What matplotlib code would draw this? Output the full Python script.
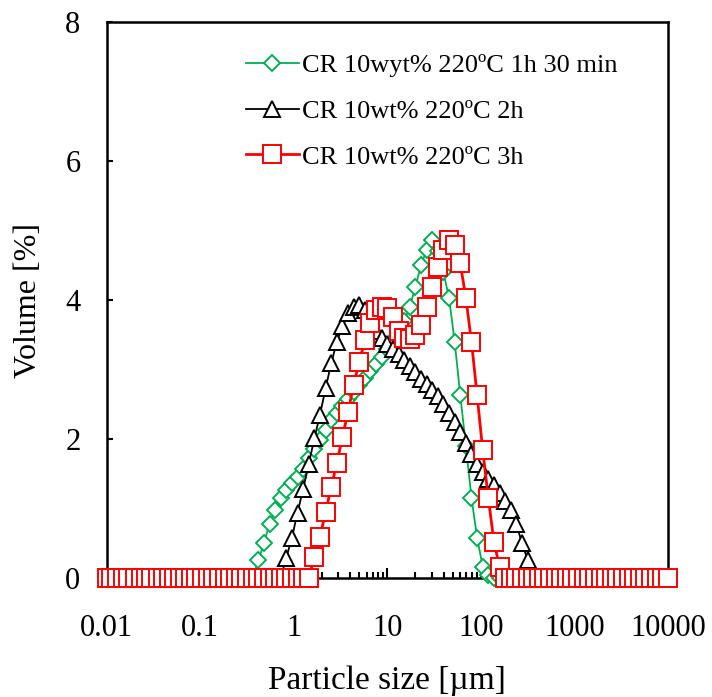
import matplotlib
matplotlib.use("Agg")
import matplotlib.pyplot as plt
from matplotlib.ticker import LogLocator, FixedLocator, FixedFormatter, NullFormatter

# particle size classes [um]
size_um = [
    0.010, 0.011, 0.013, 0.015, 0.017, 0.020, 0.023, 0.026, 0.030, 0.035,
    0.040, 0.046, 0.052, 0.060, 0.069, 0.079, 0.091, 0.105, 0.120, 0.138,
    0.158, 0.182, 0.209, 0.240, 0.275, 0.316, 0.363, 0.417, 0.479, 0.550,
    0.631, 0.724, 0.832, 0.955, 1.096, 1.259, 1.445, 1.660, 1.905, 2.188,
    2.512, 2.884, 3.311, 3.802, 4.365, 5.012, 5.754, 6.607, 7.586, 8.710,
    10.00, 11.48, 13.18, 15.14, 17.38, 19.95, 22.91, 26.30, 30.20, 34.67,
    39.81, 45.71, 52.48, 60.26, 69.18, 79.43, 91.20, 104.7, 120.2, 138.0,
    158.5, 182.0, 208.9, 239.9, 275.4, 316.2, 363.1, 416.9, 478.6, 549.5,
    631.0, 724.4, 831.8, 955.0, 1096, 1259, 1445, 1660, 1905, 2188,
    2512, 2884, 3311, 3802, 4365, 5012, 5754, 6607, 7586, 8710,
    10000,
]

# volume [%] - 1h 30 min
vol_1h30 = [
    0, 0, 0, 0, 0, 0, 0, 0, 0, 0,
    0, 0, 0, 0, 0, 0, 0, 0, 0, 0,
    0, 0, 0, 0, 0, 0, 0, 0.25, 0.50, 0.78,
    0.98, 1.15, 1.27, 1.36, 1.45, 1.57, 1.72, 1.86, 1.99, 2.13,
    2.27, 2.38, 2.48, 2.58, 2.68, 2.78, 2.88, 2.98, 3.08, 3.18,
    3.30, 3.42, 3.55, 3.70, 3.90, 4.19, 4.50, 4.72, 4.86, 4.70,
    4.40, 4.03, 3.40, 2.63, 1.90, 1.15, 0.58, 0.16, 0.04, 0,
    0, 0, 0, 0, 0, 0, 0, 0, 0, 0,
    0, 0, 0, 0, 0, 0, 0, 0, 0, 0,
    0, 0, 0, 0, 0, 0, 0, 0, 0, 0,
    0,
]

# volume [%] - 2h
vol_2h = [
    0, 0, 0, 0, 0, 0, 0, 0, 0, 0,
    0, 0, 0, 0, 0, 0, 0, 0, 0, 0,
    0, 0, 0, 0, 0, 0, 0, 0, 0, 0,
    0, 0, 0.29, 0.58, 0.94, 1.28, 1.64, 2.01, 2.35, 2.73,
    3.09, 3.40, 3.62, 3.81, 3.90, 3.93, 3.86, 3.72, 3.56, 3.45,
    3.37, 3.29, 3.22, 3.14, 3.05, 2.96, 2.87, 2.79, 2.71, 2.62,
    2.50, 2.37, 2.24, 2.10, 1.94, 1.78, 1.64, 1.53, 1.43, 1.33,
    1.22, 1.10, 0.98, 0.77, 0.50, 0.26, 0, 0, 0, 0,
    0, 0, 0, 0, 0, 0, 0, 0, 0, 0,
    0, 0, 0, 0, 0, 0, 0, 0, 0, 0,
    0,
]

# volume [%] - 3h
vol_3h = [
    0, 0, 0, 0, 0, 0, 0, 0, 0, 0,
    0, 0, 0, 0, 0, 0, 0, 0, 0, 0,
    0, 0, 0, 0, 0, 0, 0, 0, 0, 0,
    0, 0, 0, 0, 0, 0, 0, 0.30, 0.59, 0.95,
    1.31, 1.65, 2.03, 2.39, 2.78, 3.11, 3.42, 3.67, 3.86, 3.90,
    3.88, 3.75, 3.55, 3.45, 3.44, 3.50, 3.64, 3.90, 4.19, 4.47,
    4.72, 4.86, 4.79, 4.53, 4.03, 3.40, 2.63, 1.84, 1.15, 0.52,
    0.16, 0, 0, 0, 0, 0, 0, 0, 0, 0,
    0, 0, 0, 0, 0, 0, 0, 0, 0, 0,
    0, 0, 0, 0, 0, 0, 0, 0, 0, 0,
    0,
]

labels = ["CR 10wyt% 220ºC 1h 30 min", "CR 10wt% 220ºC 2h", "CR 10wt% 220ºC 3h"]
x_ticks = [0.01, 0.1, 1, 10, 100, 1000, 10000]
x_ticklabels = ["0.01", "0.1", "1", "10", "100", "1000", "10000"]

plt.rcParams["font.family"] = ["Liberation Serif", "DejaVu Serif"]

fig = plt.figure(figsize=(7.12, 6.97), dpi=100)
ax = fig.add_axes([0.150, 0.171, 0.788, 0.797])

ax.plot(size_um, vol_1h30, color="#00B050", lw=1.3, marker="D", ms=8.6,
        mfc="white", mec="#00B050", mew=1.4, label=labels[0], clip_on=False, zorder=3)
ax.plot(size_um, vol_2h, color="black", lw=1.3, marker="^", ms=12,
        mfc="white", mec="black", mew=1.4, label=labels[1], clip_on=False, zorder=4)
ax.plot(size_um, vol_3h, color="red", lw=2.0, marker="s", ms=12.5,
        mfc="white", mec="red", mew=1.4, label=labels[2], clip_on=False, zorder=5)

ax.set_xscale("log")
ax.set_xlim(0.01, 10000)
ax.set_ylim(0, 8)
ax.xaxis.set_major_locator(FixedLocator(x_ticks))
ax.xaxis.set_major_formatter(FixedFormatter(x_ticklabels))
ax.xaxis.set_minor_locator(LogLocator(base=10, subs=range(2, 10), numticks=20))
ax.xaxis.set_minor_formatter(NullFormatter())
ax.set_yticks([0, 2, 4, 6, 8])

ax.tick_params(axis="both", which="both", direction="in", labelsize=22,
               top=False, right=False, width=1.5)
ax.tick_params(axis="x", which="major", length=7, pad=26)
ax.tick_params(axis="x", which="minor", length=4)
ax.tick_params(axis="y", which="major", length=4, pad=19)

for s in ax.spines.values():
    s.set_linewidth(1.8)

ax.set_xlabel("Particle size [µm]", fontsize=24, labelpad=16)
ax.set_ylabel("Volume [%]", fontsize=23, labelpad=16)

ax.legend(loc="upper left", bbox_to_anchor=(0.21, 0.982), frameon=False,
          fontsize=19, numpoints=1, handlelength=2.0, handletextpad=0.15,
          labelspacing=0.85, borderaxespad=0.4)

fig.savefig("out.png", dpi=100)
